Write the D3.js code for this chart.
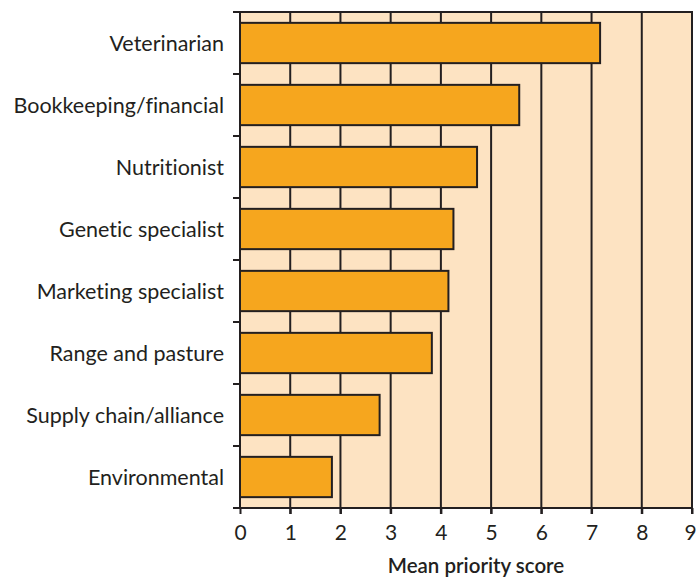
<!DOCTYPE html>
<html>
<head>
<meta charset="utf-8">
<script src="https://cdn.jsdelivr.net/npm/d3@7"></script>
<style>
body { margin: 0; background: #fff; }
svg { display: block; }
text { font-family: Lato, "Open Sans", sans-serif; fill: #231f20; font-variant-ligatures: none; }
</style>
</head>
<body>
<svg id="chart" width="696" height="578"></svg>
<script>
const categories = ["Veterinarian", "Bookkeeping/financial", "Nutritionist", "Genetic specialist",
  "Marketing specialist", "Range and pasture", "Supply chain/alliance", "Environmental"];
const values = [7.17, 5.56, 4.72, 4.25, 4.15, 3.82, 2.78, 1.83];
const xTicks = [0, 1, 2, 3, 4, 5, 6, 7, 8, 9];
const xTitle = "Mean priority score";

const W = 696, H = 578;
const svg = d3.select("#chart");
const x = d3.scaleLinear().domain([0, 9]).range([240, 692]);
const y = d3.scaleBand().domain(categories).range([12, 508]).paddingInner(0.35).paddingOuter(0.175);
const ink = "#231f20";

// background
svg.append("rect").attr("x", x(0)).attr("y", 12).attr("width", x(9) - x(0)).attr("height", 508 - 12)
  .attr("fill", "#fde3c2");

// grid lines
svg.append("g").selectAll("line").data(xTicks.slice(1)).join("line")
  .attr("x1", d => x(d)).attr("x2", d => x(d)).attr("y1", 12).attr("y2", 514)
  .attr("stroke", ink).attr("stroke-width", 2);
// top border
svg.append("line").attr("x1", x(0) - 7).attr("x2", x(9) + 1).attr("y1", 12).attr("y2", 12)
  .attr("stroke", ink).attr("stroke-width", 2);

// bars
svg.append("g").selectAll("rect").data(categories).join("rect")
  .attr("x", x(0)).attr("y", d => y(d)).attr("height", y.bandwidth())
  .attr("width", (d, i) => x(values[i]) - x(0))
  .attr("fill", "#f6a61e").attr("stroke", ink).attr("stroke-width", 2);

// x axis
const xAxis = d3.axisBottom(x).tickValues(xTicks).tickSize(6).tickPadding(11).tickFormat(d3.format("d"));
const gx = svg.append("g").attr("transform", "translate(0,508)").call(xAxis);
gx.select(".domain").attr("stroke", ink).attr("stroke-width", 2).attr("d", `M${x(0)},0H${x(9)+1}`);
gx.selectAll(".tick line").attr("stroke", ink).attr("stroke-width", 2);
gx.selectAll(".tick text").attr("font-size", 21).attr("fill", ink)
  .style("font-family", 'Lato, sans-serif')
  .attr("dx", d => d === 9 ? -2 : 0);

// y axis ticks at band boundaries
const bounds = d3.range(categories.length + 1).map(i => y.range()[0] + i * (496 / categories.length));
svg.append("line").attr("x1", x(0)).attr("x2", x(0)).attr("y1", 11).attr("y2", 509)
  .attr("stroke", ink).attr("stroke-width", 2);
svg.append("g").selectAll("line").data(bounds).join("line")
  .attr("x1", x(0) - 7).attr("x2", x(0)).attr("y1", d => d).attr("y2", d => d)
  .attr("stroke", ink).attr("stroke-width", 2);

// category labels
svg.append("g").selectAll("text").data(categories).join("text")
  .attr("x", 224).attr("y", d => y(d) + y.bandwidth() / 2)
  .attr("text-anchor", "end").attr("dominant-baseline", "central")
  .attr("font-size", 21.5).text(d => d);

// x title
svg.append("text").attr("x", 476).attr("y", 573).attr("text-anchor", "middle")
  .attr("font-size", 20.5).attr("font-weight", 600).text(xTitle);
</script>
</body>
</html>
